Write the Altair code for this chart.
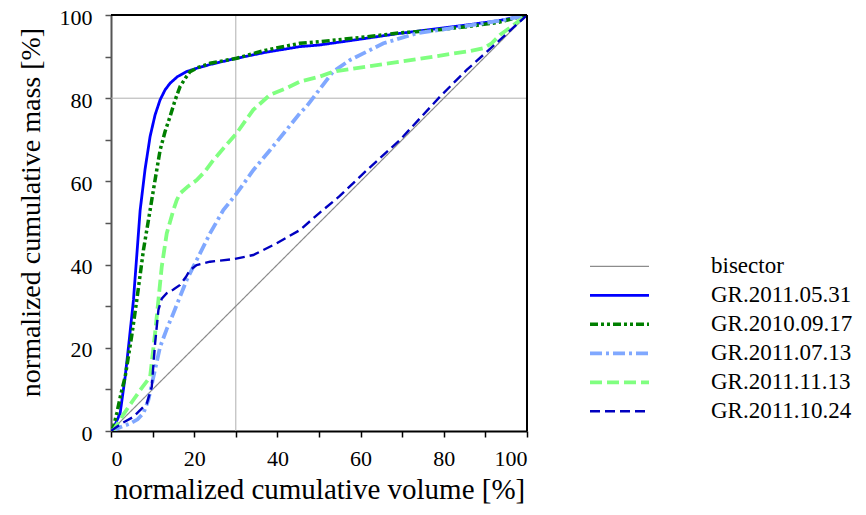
import altair as alt
import pandas as pd

names = ["bisector", "GR.2011.05.31", "GR.2010.09.17", "GR.2011.07.13", "GR.2011.11.13", "GR.2011.10.24"]
colors = ["#8c8c8c", "#0000FF", "#007F00", "#80A8FF", "#80FF80", "#0000C0"]
dashes = [[1, 0], [1, 0], [8, 3, 3, 3, 3, 3], [12, 4, 3, 4], [12, 5], [10, 5]]
widths = [1.2, 2.8, 3.5, 3.8, 3.8, 2.4]

bis_x = [0, 100]
bis_y = [0, 100]

s1_x = [0, 0.5, 1.2, 2.2, 3.4, 4.4, 5.4, 7.0, 8.2, 9.4, 10.6, 11.8, 13.0, 14.2, 16.0, 18.2, 20.6, 23.8, 30.2, 37.0, 45.4, 50.2, 60.0, 69.5, 77.5, 85.5, 93.0, 100]
s1_y = [0, 0.5, 2.0, 4.3, 13.0, 22.0, 31.5, 53.0, 63.0, 70.8, 76.0, 79.6, 82.0, 83.6, 85.2, 86.4, 87.2, 88.1, 89.6, 91.0, 92.4, 92.8, 94.2, 95.6, 96.6, 97.6, 98.6, 100]

s2_x = [0, 0.6, 1.4, 2.4, 3.4, 3.8, 5.0, 6.2, 7.8, 9.4, 10.2, 11.8, 13.0, 14.2, 15.4, 16.6, 18.0, 19.0, 21.0, 23.8, 30.2, 37.0, 45.4, 50.2, 60.0, 69.5, 77.5, 85.5, 93.0, 100]
s2_y = [0, 1.0, 4.3, 9.0, 13.0, 15.5, 23.0, 31.5, 43.5, 53.1, 58.0, 67.5, 72.0, 75.6, 79.5, 82.8, 85.0, 86.4, 87.4, 88.4, 89.6, 91.5, 93.2, 93.6, 94.6, 95.7, 96.3, 97.2, 98.2, 100]

s3_x = [0, 0.6, 2.5, 4.6, 6.4, 7.8, 9.0, 10.2, 11.8, 13.4, 15.0, 18.2, 20.6, 23.8, 27.0, 30.2, 34.2, 38.2, 42.2, 45.4, 47.0, 50.2, 53.4, 57.5, 61.5, 65.5, 73.5, 81.5, 89.5, 95.0, 100]
s3_y = [0, 0.2, 1.0, 1.8, 2.8, 4.3, 7.5, 13.0, 20.2, 24.5, 28.3, 36.3, 41.1, 47.5, 53.1, 57.1, 62.7, 67.5, 72.4, 76.4, 78.0, 82.2, 86.4, 89.2, 91.2, 93.2, 95.6, 96.8, 98.0, 98.9, 100]

s4_x = [0, 0.6, 3.0, 5.4, 7.5, 9.4, 10.6, 11.4, 12.2, 13.4, 15.0, 15.8, 16.6, 18.5, 20.6, 22.5, 24.6, 27.5, 30.2, 34.2, 38.2, 42.2, 45.4, 50.2, 53.4, 61.5, 69.5, 77.5, 85.5, 89.5, 91.5, 93.5, 96.5, 100]
s4_y = [0, 0.2, 4.0, 7.5, 10.5, 13.0, 23.5, 31.5, 39.5, 47.5, 53.1, 55.5, 57.1, 58.8, 60.3, 62.3, 65.1, 68.5, 71.6, 77.2, 80.8, 82.4, 84.0, 85.2, 86.4, 87.6, 88.8, 90.0, 91.2, 92.0, 93.2, 95.2, 97.4, 100]

s5_x = [0, 2.5, 5.4, 8.6, 9.8, 10.2, 10.6, 11.4, 12.2, 13.4, 15.0, 16.6, 18.0, 19.0, 20.6, 23.8, 29.4, 34.2, 39.8, 45.4, 50.2, 55.0, 61.5, 69.5, 79.1, 85.5, 93.5, 100]
s5_y = [0, 1.8, 3.4, 6.6, 10.6, 16.0, 21.1, 29.1, 31.8, 33.1, 34.0, 35.1, 37.0, 38.7, 39.9, 40.7, 41.3, 42.3, 45.1, 48.3, 52.5, 56.5, 62.7, 70.0, 80.4, 86.8, 94.0, 100]

all_x = [bis_x, s1_x, s2_x, s3_x, s4_x, s5_x]
all_y = [bis_y, s1_y, s2_y, s3_y, s4_y, s5_y]

rows = []
for name, xs, ys in zip(names, all_x, all_y):
    for i, (xv, yv) in enumerate(zip(xs, ys)):
        rows.append({"series": name, "x": xv, "y": yv, "order": i})
df = pd.DataFrame(rows)

ref_x = [30]
ref_y = [80]
frame_val = [100]

FONT = "'Liberation Serif', 'DejaVu Serif', 'Times New Roman', serif"

legend = alt.Legend(
    title=None,
    orient="none",
    legendX=477,
    legendY=237,
    symbolType="stroke",
    symbolSize=3481,
    clipHeight=28.6,
    rowPadding=0,
    labelOffset=60,
    labelFontSize=23,
    labelFont=FONT,
    labelColor="black",
    padding=0,
    labelLimit=300,
)

x_axis = alt.Axis(
    values=list(range(0, 101, 10)),
    labelExpr="datum.value % 20 == 0 ? datum.label : ''",
    grid=False,
    tickSize=6,
    tickColor="black",
    tickWidth=1.5,
    domainColor="black",
    domainWidth=2,
    labelFont=FONT,
    labelFontSize=22,
    labelColor="black",
    labelPadding=11,
    titleFont=FONT,
    titleFontSize=29,
    titleFontWeight="normal",
    titleColor="black",
    titlePadding=6,
)
y_axis = alt.Axis(
    values=list(range(0, 101, 10)),
    labelExpr="datum.value % 20 == 0 ? datum.label : ''",
    grid=False,
    tickSize=6,
    tickColor="#555555",
    tickWidth=1.5,
    domainColor="#555555",
    domainWidth=2,
    labelFont=FONT,
    labelFontSize=22,
    labelColor="black",
    labelPadding=13,
    labelOffset=2,
    titleFont=FONT,
    titleFontSize=28,
    titleFontWeight="normal",
    titleColor="black",
    titleX=-66,
    titleY=197,
)

xs = alt.Scale(domain=[0, 100], nice=False)
ys = alt.Scale(domain=[0, 100], nice=False)

vref = alt.Chart(pd.DataFrame({"x": ref_x})).mark_rule(color="#b0b0b0", strokeWidth=1).encode(
    x=alt.X("x:Q", scale=xs, axis=x_axis, title="normalized cumulative volume [%]")
)
href = alt.Chart(pd.DataFrame({"y": ref_y})).mark_rule(color="#b0b0b0", strokeWidth=1).encode(
    y=alt.Y("y:Q", scale=ys, axis=y_axis, title="normalized cumulative mass [%]")
)
top = alt.Chart(pd.DataFrame({"y": frame_val})).mark_rule(color="black", strokeWidth=2).encode(
    y=alt.Y("y:Q", scale=ys)
)
right = alt.Chart(pd.DataFrame({"x": frame_val})).mark_rule(color="black", strokeWidth=2).encode(
    x=alt.X("x:Q", scale=xs)
)

lines = alt.Chart(df).mark_line(clip=True, strokeCap="butt").encode(
    x=alt.X("x:Q", scale=xs, axis=x_axis, title="normalized cumulative volume [%]"),
    y=alt.Y("y:Q", scale=ys, axis=y_axis, title="normalized cumulative mass [%]"),
    color=alt.Color("series:N", scale=alt.Scale(domain=names, range=colors), legend=legend),
    strokeDash=alt.StrokeDash("series:N", scale=alt.Scale(domain=names, range=dashes), legend=legend),
    strokeWidth=alt.StrokeWidth("series:N", scale=alt.Scale(type="ordinal", domain=names, range=widths), legend=legend),
    order="order:Q",
)

chart = alt.layer(vref, href, lines, top, right).properties(
    width=416,
    height=416,
    autosize=alt.AutoSizeParams(type="none"),
    padding={"left": 103, "top": 7, "right": 331, "bottom": 76},
).configure_view(stroke=None).configure(background="white", font=FONT)

chart.save("out.html", embed_options={"renderer": "svg", "actions": False})
